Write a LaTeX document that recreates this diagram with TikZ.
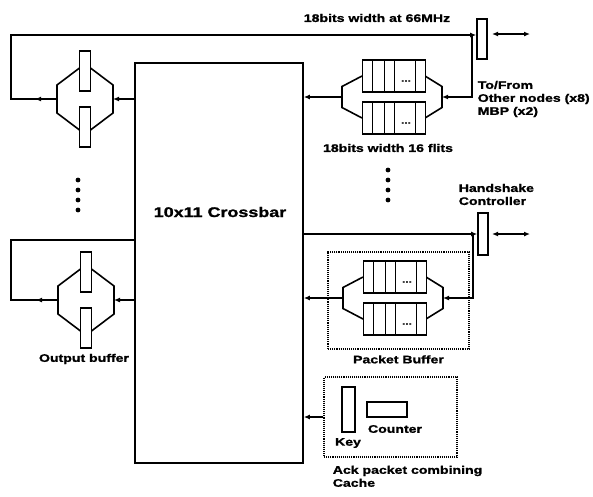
\documentclass[tikz,border=0pt]{standalone}
\usepackage{fontspec}
\setmainfont{Liberation Sans}[FakeStretch=1.28,BoldFeatures={FakeBold=1.3}]
\usetikzlibrary{positioning,arrows.meta,calc,decorations.markings}

\begin{document}
\begin{tikzpicture}[
x=1pt,y=-1pt,
line width=1.6pt,
>={Latex[length=6pt,width=5pt]},
every node/.style={font=\fontsize{11}{13}\selectfont\bfseries,inner sep=0pt},
bar/.style={draw,fill=white,minimum width=11},
dotbox/.style={draw,densely dotted,line width=1.1pt},
midarr/.style={postaction={decorate},decoration={markings,mark=at position #1 with {\arrow{>}}}},
obuf/.pic={
 \draw (-5.5,-31) -- (-28,-14) -- (-28,14) -- (-5.5,31);
 \draw (5.5,-31) -- (28,-14) -- (28,14) -- (5.5,31);
 \node[bar,minimum height=40] (-hi) at (0,-28) {};
 \node[bar,minimum height=40] (-lo) at (0,28) {};
 \coordinate (-w) at (-28,0);
 \coordinate (-e) at (28,0);
},
ibuf/.pic={
 \draw (-30,-21) -- (-50,-10.5) -- (-50,10.5) -- (-30,21);
 \draw (33,-21) -- (50,-10.5) -- (50,10.5) -- (33,21);
 \foreach \q/\yy in {a/-21,b/21}{
  \node[draw,fill=white,minimum width=63,minimum height=32] (-\q) at (2,\yy) {};
  \foreach \dx in {-19.5,-7.5,2.5,23.5} \draw (\dx,\yy-16) -- (\dx,\yy+16);
  \node[font=\fontsize{9}{9}\selectfont\bfseries] (-\q dots) at (14,\yy+5) {...};
 }
 \coordinate (-w) at (-50,0);
 \coordinate (-e) at (50,0);
}]
\useasboundingbox (0,0) rectangle (593,496);

% crossbar
\node[draw,minimum width=168,minimum height=400] (xbar) at (219,263) {};
\node[font=\fontsize{14}{16}\selectfont\bfseries] (xbarlbl) at (220,212) {10x11 Crossbar};

% output buffers
\pic (ob1) at (85,99) {obuf};
\pic (ob2) at (86,300) {obuf};
\node (oblbl) at (84,359) {Output buffer};
\foreach \yy in {180,190,200,210} \fill (78,\yy) circle (2.4);

% input buffers
\pic (ib1) at (392,97) {ibuf};
\pic (ib2) at (393,298) {ibuf};
\node (iblbl) at (388,148) {18bits width 16 flits};
\foreach \yy in {170,180,190,200} \fill (388,\yy) circle (2.4);
\node[dotbox,minimum width=141,minimum height=97] (pbuf) at (398.5,300.5) {};
\node (pbuflbl) [below=5pt of pbuf] {Packet Buffer};

% ports
\node[bar,minimum width=10,minimum height=40] (port1) at (482,39) {};
\node[bar,minimum width=10,minimum height=42] (port2) at (483,234) {};
\node (linklbl) at (377,18) {18bits width at 66MHz};
\node[anchor=west,align=left] (portlbl) at (477,99) {To/From\\Other nodes (x8)\\MBP (x2)};
\node[anchor=west,align=left] (hslbl) at (458,194.5) {Handshake\\Controller};
\coordinate (ext1a) at (492,34);
\coordinate (ext1b) at (530,34);
\coordinate (ext2a) at (492,234);
\coordinate (ext2b) at (530,234);
\draw[<->] (ext1a) -- (ext1b);
\draw[<->] (ext2a) -- (ext2b);

% ack cache
\node[dotbox,minimum width=133,minimum height=80] (cache) at (390.5,417) {};
\node[bar,minimum width=13,minimum height=45] (key) at (348.5,409.5) {};
\node[bar,minimum width=40,minimum height=15] (counter) at (387,409.5) {};
\node (keylbl) at (348,443) {Key};
\node (counterlbl) at (395,429) {Counter};
\node[anchor=north west,align=left] (cachelbl) at (332,465) {Ack packet combining\\Cache};

% connections
\coordinate (lt1) at (11,35);
\coordinate (lt2) at (11,240);
\coordinate (j1) at (472,35);
\coordinate (j2) at (473,234);
\draw[->,midarr=22pt] (ob1-w) -| (lt1) -- (lt1 -| port1.west);
\draw[midarr=22pt] (ob2-w) -| (lt2) -- (lt2 -| xbar.west);
\draw[->] (xbar.west |- ob1-e) -- (ob1-e);
\draw[->] (xbar.west |- ob2-e) -- (ob2-e);
\draw[->] (j1) |- (ib1-e);
\draw[->] (j2) |- (ib2-e);
\draw[->] (xbar.east |- port2) -- (port2.west);
\draw[->] (ib1-w) -- (xbar.east |- ib1-w);
\draw[->] (ib2-w) -- (xbar.east |- ib2-w);
\draw[->] (cache.west) -- (xbar.east |- cache.west);
\end{tikzpicture}
\end{document}
